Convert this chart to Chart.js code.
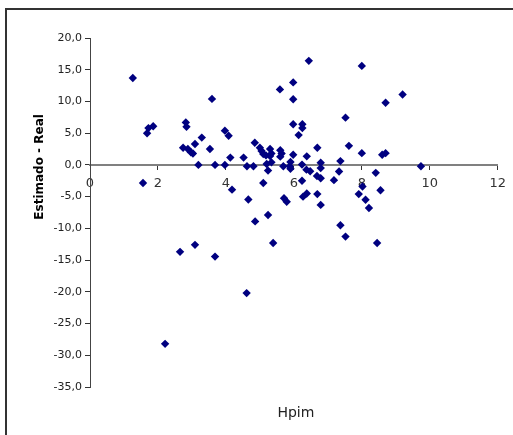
<!DOCTYPE html>
<html>
<head>
<meta charset="utf-8">
<script src="https://cdn.jsdelivr.net/npm/chart.js@4.4.0/dist/chart.umd.min.js"></script>
<style>
  html, body { margin: 0; padding: 0; background: #ffffff; overflow: hidden; }
  #wrap { position: relative; width: 513px; height: 435px; }
  #frame { position: absolute; left: 5px; top: 8px; width: 700px; height: 700px;
           border-left: 2px solid #333333; border-top: 2px solid #333333; }
  canvas { position: absolute; left: 0; top: 0; }
</style>
</head>
<body>
<div id="wrap">
  <div id="frame"></div>
  <canvas id="c" width="513" height="435"></canvas>
</div>
<script>
const xTitle = "Hpim";
const yTitle = "Estimado - Real";
const xTickValues = [0, 2, 4, 6, 8, 10, 12];
const yTickValues = [20, 15, 10, 5, 0, -5, -10, -15, -20, -25, -30, -35];

const hpim = [
  1.26, 1.56, 1.68, 1.72, 1.86,
  2.82, 2.84, 2.74, 2.88, 2.97, 3.09, 3.03, 3.29, 3.19, 3.53, 3.59, 3.68, 3.97, 3.97, 4.08,
  4.13, 4.18, 4.52, 4.62, 4.81, 4.85,
  5.00, 5.05, 5.10, 5.18, 5.30, 5.34, 5.30, 5.60, 5.64, 5.60,
  5.20, 5.34, 5.24, 5.10,
  5.69, 5.88, 5.90, 5.90,
  5.59, 5.98, 5.98, 5.98, 6.25, 6.25, 6.14, 5.98, 6.38, 6.69,
  6.24, 6.37, 6.48, 6.79, 6.79, 6.68, 6.79, 6.24,
  6.44,
  7.18, 7.33, 7.37, 7.52, 7.62, 8.00, 8.00, 8.60, 8.70, 9.20, 8.70, 9.74, 8.41,
  4.66, 5.71, 5.79, 6.27, 6.38, 6.69, 6.79, 7.91, 8.02, 8.11, 8.21, 8.55,
  4.86, 5.24, 5.39, 7.37, 7.52, 8.45,
  2.65, 3.09, 3.68, 4.61, 2.21
];
const estimadoMenosReal = [
  13.7, -2.85, 5.0, 5.8, 6.1,
  6.7, 6.0, 2.7, 2.5, 2.0, 3.3, 1.8, 4.3, 0.0, 2.5, 10.4, 0.0, 0.0, 5.4, 4.6,
  1.15, -3.9, 1.15, -0.2, -0.2, 3.5,
  2.7, 2.2, 1.7, 1.5, 2.5, 1.8, 1.4, 2.3, 1.8, 1.3,
  0.15, 0.4, -0.9, -2.85,
  -0.2, -0.2, 0.45, -0.6,
  11.9, 13.0, 10.35, 6.4, 6.4, 5.8, 4.7, 1.6, 1.35, 2.7,
  0.05, -0.75, -1.0, 0.35, -0.5, -1.75, -2.1, -2.5,
  16.4,
  -2.4, -1.05, 0.6, 7.45, 3.0, 15.6, 1.85, 1.6, 1.85, 11.1, 9.8, -0.2, -1.25,
  -5.45, -5.25, -5.8, -5.0, -4.5, -4.6, -6.3, -4.6, -3.4, -5.5, -6.8, -4.0,
  -8.9, -7.9, -12.3, -9.5, -11.3, -12.3,
  -13.7, -12.6, -14.45, -20.2, -28.2
];

const points = hpim.map((x, i) => ({ x: x, y: estimadoMenosReal[i] }));

const titlesPlugin = {
  id: 'titles',
  afterDraw(chart) {
    const ctx = chart.ctx;
    const xs = chart.scales.x;
    const ys = chart.scales.y;
    ctx.save();
    ctx.fillStyle = '#222222';
    ctx.textAlign = 'center';
    ctx.textBaseline = 'middle';
    ctx.font = '14px "DejaVu Sans"';
    ctx.fillText(xTitle, (xs.left + xs.right) / 2 + 2, ys.bottom + 26);
    ctx.translate(40, ys.getPixelForValue(0) + 2);
    ctx.rotate(-Math.PI / 2);
    ctx.font = 'bold 12px "DejaVu Sans"';
    ctx.fillStyle = '#000000';
    ctx.fillText(yTitle, 0, 0);
    ctx.restore();
  }
};

new Chart(document.getElementById('c'), {
  type: 'scatter',
  data: {
    datasets: [{
      label: yTitle,
      data: points,
      pointStyle: 'rectRot',
      pointRadius: 4.2,
      pointHoverRadius: 4.2,
      backgroundColor: '#000080',
      borderColor: '#000080',
      borderWidth: 0
    }]
  },
  options: {
    responsive: false,
    animation: false,
    devicePixelRatio: 1,
    layout: { padding: { left: 0, right: 15, top: 38, bottom: 48 } },
    plugins: { legend: { display: false }, tooltip: { enabled: false } },
    scales: {
      x: {
        type: 'linear',
        position: { y: 0 },
        min: 0, max: 12,
        afterBuildTicks(scale) { scale.ticks = xTickValues.map(v => ({ value: v })); },
        ticks: {
          color: '#333333',
          font: { family: '"DejaVu Sans"', size: 13 },
          padding: 7,
          callback: v => String(v)
        },
        grid: { drawOnChartArea: false, drawTicks: true, tickLength: 4, color: '#333333', lineWidth: 1 },
        border: { display: true, color: '#808080', width: 2 }
      },
      y: {
        type: 'linear',
        position: 'left',
        min: -35, max: 20,
        afterFit(scale) { scale.width = 90; },
        afterBuildTicks(scale) { scale.ticks = yTickValues.map(v => ({ value: v })); },
        ticks: {
          color: '#222222',
          font: { family: '"DejaVu Sans"', size: 11 },
          padding: 3,
          callback: v => Number(v).toFixed(1).replace('.', ',')
        },
        grid: { drawOnChartArea: false, drawTicks: true, tickLength: 5, color: '#333333', lineWidth: 1 },
        border: { display: true, color: '#444444', width: 1 }
      }
    }
  },
  plugins: [titlesPlugin]
});
</script>
</body>
</html>
